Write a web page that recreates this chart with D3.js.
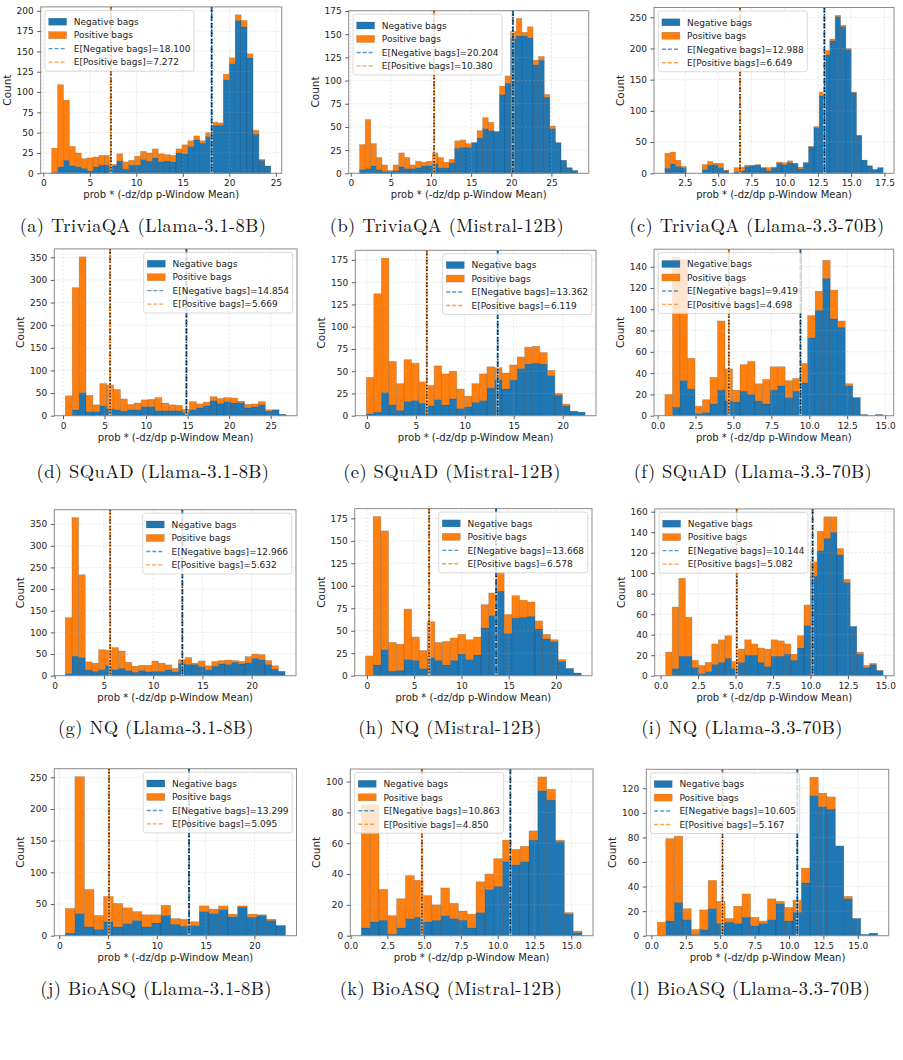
<!DOCTYPE html>
<html>
<head>
<meta charset="utf-8">
<script src="https://cdn.jsdelivr.net/npm/d3@7"></script>
<style>
body { margin: 0; background: #fff; }
svg { display: block; }
</style>
</head>
<body>
<svg id="fig" width="903" height="1060"></svg>
<script>
// ---- data: stacked histogram counts (negative = blue, positive = orange on top)
var captions = ['(a) TriviaQA (Llama-3.1-8B)', '(b) TriviaQA (Mistral-12B)', '(c) TriviaQA (Llama-3.3-70B)',
	'(d) SQuAD (Llama-3.1-8B)', '(e) SQuAD (Mistral-12B)', '(f) SQuAD (Llama-3.3-70B)',
	'(g) NQ (Llama-3.1-8B)', '(h) NQ (Mistral-12B)', '(i) NQ (Llama-3.3-70B)',
	'(j) BioASQ (Llama-3.1-8B)', '(k) BioASQ (Mistral-12B)', '(l) BioASQ (Llama-3.3-70B)'];

var binStart = [0.9, 1.1, 1.0, 0.28, -0.07, 0.48, 1.08, -0.15, 0.33, 0.62, 0.73, 0.43];
var binWidth = [0.6365, 0.697, 0.4, 0.83, 0.771, 0.4955, 0.676, 0.815, 0.44, 0.981, 0.6, 0.616];

var negMean = [18.100, 20.204, 12.988, 14.854, 13.362, 9.419, 12.966, 13.668, 10.144, 13.299, 10.863, 10.605];
var posMean = [7.272, 10.380, 6.649, 5.669, 6.119, 4.698, 5.632, 6.578, 5.082, 5.095, 4.850, 5.167];

var negA = [1,8,16,9,8,6,3,8,10,10, 9,15,5,10,10,17,15,19,14,15, 14,25,24,33,41,37,45,59,59,115, 135,188,180,142,48,16,9];
var posA = [30,101,74,24,17,12,16,12,12,12, 2,9,9,6,11,10,10,11,10,8, 8,5,11,7,5,3,5,4,3,7, 7,7,8,5,5,1,0];
var negB = [4,5,8,4,2,2,3,7,5,5, 6,8,8,10,6,6,11,27,28,28, 33,38,48,46,45,85,97,145,148,148, 146,117,122,82,48,33,14,6,3];
var posB = [27,53,24,13,7,1,6,15,12,4, 7,4,5,12,11,6,4,8,8,4, 0,8,12,9,0,9,8,8,19,4, 12,5,4,3,3,0,0,0,0];
var negC = [8,15,11,9,0,0,0,6,13,14, 9,4,0,2,4,11,12,13,9,4, 9,16,14,17,16,7,17,42,73,124, 190,212,251,235,198,129,60,21,12,6, 9];
var posC = [24,19,10,2,0,0,0,8,6,2, 7,1,0,7,6,2,1,1,0,5, 1,2,3,3,0,3,0,1,2,6, 7,3,2,2,2,1,1,0,0,0, 0];
var negD = [0,13,51,9,9,22,15,13,10,13, 13,20,20,11,11,11,11,7,13,17, 22,33,27,31,28,29,17,20,24,10, 13,3];
var posD = [44,270,300,36,15,49,53,45,27,12, 15,15,16,29,17,13,12,7,18,9, 8,9,11,9,11,3,8,6,7,3, 0,0];
var negE = [2,4,26,12,6,16,17,14,11,18, 12,19,8,10,15,17,31,40,30,40, 53,58,59,58,45,23,11,5,4];
var posE = [41,133,151,49,30,47,42,24,23,38, 35,31,22,12,21,30,24,14,18,17, 13,19,19,13,6,2,2,0,0];
var negF = [0,8,33,25,2,3,11,24,14,13, 23,20,14,11,24,28,17,23,31,73, 99,129,91,83,28,17,1,0,1];
var posF = [20,141,114,29,7,12,25,65,30,11, 25,31,16,23,22,18,16,12,18,21, 18,17,27,6,2,0,0,0,0];
var negG = [5,45,42,13,10,14,23,14,17,12, 8,12,9,10,10,14,9,28,26,26, 21,13,22,27,26,31,27,30,40,37, 26,15,10];
var posG = [129,320,191,19,19,46,36,51,40,19, 14,12,15,24,19,11,8,9,16,3, 13,10,11,8,10,4,6,14,10,12, 9,8,0];
var negH = [0,12,29,5,6,18,17,8,20,17, 12,17,24,18,23,53,67,94,47,64, 65,66,52,41,38,16,8,3];
var posH = [22,165,132,32,29,56,26,20,40,20, 26,25,22,22,20,26,25,21,21,25, 19,16,9,5,2,2,0,0];
var negI = [0,7,19,19,8,2,4,11,13,17, 7,13,20,20,13,9,19,19,21,15, 27,49,97,122,134,140,118,91,48,21, 8,11,5];
var posI = [23,60,76,38,7,8,9,20,22,22, 7,13,15,11,14,17,16,15,10,6, 12,20,14,19,21,15,6,3,0,2, 2,1,0];
var negJ = [4,35,14,10,22,14,19,24,14,20, 32,18,15,16,38,35,41,30,45,29, 32,24,16];
var posJ = [39,216,59,22,40,37,25,14,19,13, 16,9,11,6,9,7,6,4,2,5, 1,2,0];
var negK = [5,9,10,1,5,11,12,9,10,13, 11,10,5,15,30,32,48,46,48,62, 94,88,61,14,2];
var posK = [80,76,20,12,19,28,24,17,10,18, 10,6,9,20,10,18,14,10,10,6, 9,7,1,1,1];
var negL = [0,12,27,13,1,5,22,10,11,10, 15,8,10,13,26,12,19,43,114,105, 103,73,30,14,1,2];
var posL = [11,67,54,9,4,16,23,18,3,14, 19,7,2,17,2,11,10,12,15,11, 10,0,2,0,0,0];

var xTicks = [
	[0,5,10,15,20,25], [0,5,10,15,20,25], [2.5,5,7.5,10,12.5,15,17.5],
	[0,5,10,15,20,25], [0,5,10,15,20], [0,2.5,5,7.5,10,12.5,15],
	[0,5,10,15,20], [0,5,10,15,20], [0,2.5,5,7.5,10,12.5,15],
	[0,5,10,15,20], [0,2.5,5,7.5,10,12.5,15], [0,2.5,5,7.5,10,12.5,15]];
var yTicks = [
	d3.range(0, 201, 25), d3.range(0, 176, 25), d3.range(0, 251, 50),
	d3.range(0, 351, 50), d3.range(0, 176, 25), d3.range(0, 141, 20),
	d3.range(0, 351, 50), d3.range(0, 176, 25), d3.range(0, 161, 20),
	d3.range(0, 251, 50), d3.range(0, 101, 20), d3.range(0, 121, 20)];

// ---- layout (page pixels)
var axLeft  = [40.7, 348.7, 654, 54.3, 355.3, 654, 54.3, 354.7, 654.7, 54.3, 350.3, 646.3];
var axRight = [281.7, 588.7, 894, 297, 596, 893.7, 296, 592, 894, 296.5, 593, 888.7];
var axTop   = [6.9, 10.7, 7.5, 248.9, 250.3, 249.2, 509.7, 508.6, 508.9, 768.7, 769, 769.3];
var rowBottom = [173.3, 415.7, 675.7, 935.7];
var capBase = [232, 478, 734, 995];
var capX = [143, 447, 757, 153, 452, 753, 156, 450, 742, 156, 451, 750];
var legendLeft = [true, true, true, false, false, true, false, false, true, false, true, true];

var blue = '#1f77b4', orange = '#ff7f0e';
var sans = 'DejaVu Sans, sans-serif';

var negs = [negA, negB, negC, negD, negE, negF, negG, negH, negI, negJ, negK, negL];
var poss = [posA, posB, posC, posD, posE, posF, posG, posH, posI, posJ, posK, posL];

var panels = captions.map(function(c, i) {
	return {
		caption: c, neg: negs[i], pos: poss[i], x0: binStart[i], w: binWidth[i],
		negMean: negMean[i], posMean: posMean[i], xt: xTicks[i], yt: yTicks[i],
		left: axLeft[i], right: axRight[i], top: axTop[i], bottom: rowBottom[Math.floor(i / 3)],
		capY: capBase[Math.floor(i / 3)], capX: capX[i], legLeft: legendLeft[i],
		fmt: (xTicks[i].indexOf(2.5) >= 0) ? d3.format('.1f') : d3.format('d')
	};
});

var svg = d3.select('#fig');

panels.forEach(function(p) { drawPanel(svg.append('g'), p); });

function drawPanel(g, p)
{
	var n = p.neg.length;
	var xEnd = p.x0 + n * p.w;
	var m = 0.05 * (xEnd - p.x0);
	var x = d3.scaleLinear().domain([p.x0 - m, xEnd + m]).range([p.left, p.right]);
	var tot = p.neg.map(function(v, i) { return v + p.pos[i]; });
	var y = d3.scaleLinear().domain([0, d3.max(tot) * 1.05]).range([p.bottom, p.top]);

	var bins = p.neg.map(function(v, i) {
		return { x: p.x0 + i * p.w, neg: v, pos: p.pos[i] };
	});
	var bw = x(p.x0 + p.w) - x(p.x0);

	// blue bars
	g.append('g').selectAll('rect').data(bins.filter(function(d) { return d.neg > 0; }))
		.enter().append('rect')
		.attr('x', function(d) { return x(d.x); }).attr('width', bw)
		.attr('y', function(d) { return y(d.neg); })
		.attr('height', function(d) { return y(0) - y(d.neg); })
		.attr('fill', blue).attr('stroke', '#333').attr('stroke-opacity', 0.45).attr('stroke-width', 0.6);

	// orange bars stacked on top
	g.append('g').selectAll('rect').data(bins.filter(function(d) { return d.pos > 0; }))
		.enter().append('rect')
		.attr('x', function(d) { return x(d.x); }).attr('width', bw)
		.attr('y', function(d) { return y(d.neg + d.pos); })
		.attr('height', function(d) { return y(d.neg) - y(d.neg + d.pos); })
		.attr('fill', orange).attr('stroke', '#555').attr('stroke-opacity', 0.4).attr('stroke-width', 0.6);

	// grid
	var grid = g.append('g').attr('stroke', '#b0b0b0').attr('stroke-opacity', 0.45)
		.attr('stroke-width', 0.6).attr('stroke-dasharray', '2.5,1.5');
	p.xt.forEach(function(t) {
		grid.append('line').attr('x1', x(t)).attr('x2', x(t)).attr('y1', p.top).attr('y2', p.bottom);
	});
	p.yt.forEach(function(t) {
		grid.append('line').attr('x1', p.left).attr('x2', p.right).attr('y1', y(t)).attr('y2', y(t));
	});

	// mean lines
	[{ v: p.negMean, c: blue }, { v: p.posMean, c: orange }].forEach(function(ml) {
		g.append('line').attr('x1', x(ml.v)).attr('x2', x(ml.v)).attr('y1', p.top).attr('y2', p.bottom)
			.attr('stroke', '#fff').attr('stroke-opacity', 0.6).attr('stroke-width', 2.6);
		g.append('line').attr('x1', x(ml.v)).attr('x2', x(ml.v)).attr('y1', p.top).attr('y2', p.bottom)
			.attr('stroke', ml.c).attr('stroke-width', 2).attr('stroke-dasharray', '5.5,2.4');
		g.append('line').attr('x1', x(ml.v)).attr('x2', x(ml.v)).attr('y1', p.top).attr('y2', p.bottom)
			.attr('stroke', '#111').attr('stroke-width', 1.3).attr('stroke-dasharray', '1.4,1.8');
	});

	// frame
	g.append('rect').attr('x', p.left).attr('y', p.top)
		.attr('width', p.right - p.left).attr('height', p.bottom - p.top)
		.attr('fill', 'none').attr('stroke', '#8c8c8c').attr('stroke-width', 1);

	// axes
	var xa = g.append('g').attr('transform', 'translate(0,' + p.bottom + ')')
		.call(d3.axisBottom(x).tickValues(p.xt).tickSize(3.5).tickPadding(3).tickFormat(p.fmt));
	var ya = g.append('g').attr('transform', 'translate(' + p.left + ',0)')
		.call(d3.axisLeft(y).tickValues(p.yt).tickSize(3.5).tickPadding(3.5).tickFormat(d3.format('d')));
	[xa, ya].forEach(function(a) {
		a.attr('font-family', sans).attr('font-size', 9);
		a.select('.domain').remove();
		a.selectAll('line').attr('stroke', '#333').attr('stroke-width', 0.8);
		a.selectAll('text').attr('fill', '#222');
	});

	g.append('text').attr('x', (p.left + p.right) / 2).attr('y', p.bottom + 25)
		.attr('text-anchor', 'middle').attr('font-family', sans).attr('font-size', 10).attr('fill', '#222')
		.text('prob * (-dz/dp p-Window Mean)');
	g.append('text').attr('transform', 'translate(' + (p.left - 30) + ',' + ((p.top + p.bottom) / 2) + ') rotate(-90)')
		.attr('text-anchor', 'middle').attr('font-family', sans).attr('font-size', 10.5).attr('fill', '#222')
		.text('Count');

	drawLegend(g, p);

	// caption
	g.append('text').attr('x', p.capX).attr('y', p.capY).attr('text-anchor', 'middle')
		.attr('font-family', "'Latin Modern Roman', 'CMU Serif', 'Liberation Serif', serif")
		.attr('font-size', 18.5).attr('letter-spacing', 0.4).attr('fill', '#111')
		.text(p.caption);
}

function drawLegend(g, p)
{
	var items = [
		{ kind: 'patch', color: blue, label: 'Negative bags' },
		{ kind: 'patch', color: orange, label: 'Positive bags' },
		{ kind: 'line', color: blue, label: 'E[Negative bags]=' + p.negMean.toFixed(3) },
		{ kind: 'line', color: orange, label: 'E[Positive bags]=' + p.posMean.toFixed(3) }
	];
	var fs = 9;
	var lg = g.append('g');
	var box = lg.append('rect');
	var texts = lg.selectAll('text').data(items).enter().append('text')
		.attr('font-family', sans).attr('font-size', fs).attr('fill', '#222')
		.text(function(d) { return d.label; });
	var maxW = 0;
	texts.each(function() { maxW = Math.max(maxW, this.getComputedTextLength()); });

	var bwid = maxW + 32.4, bh = 60.7;
	var bx = p.legLeft ? p.left + 4.3 : p.right - 4.3 - bwid;
	var by = p.top + 3.5;
	box.attr('x', bx).attr('y', by).attr('width', bwid).attr('height', bh).attr('rx', 2.5)
		.attr('fill', '#fff').attr('fill-opacity', 0.8).attr('stroke', '#d0d0d0').attr('stroke-width', 0.8);

	items.forEach(function(d, i) {
		var cy = by + 11.3 + i * 13.47;
		if (d.kind === 'patch') {
			lg.append('rect').attr('x', bx + 3.6).attr('y', cy - 3.5).attr('width', 18).attr('height', 7)
				.attr('fill', d.color).attr('stroke', '#333').attr('stroke-opacity', 0.35).attr('stroke-width', 0.5);
		} else {
			lg.append('line').attr('x1', bx + 3.6).attr('x2', bx + 21.6).attr('y1', cy).attr('y2', cy)
				.attr('stroke', d.color).attr('stroke-opacity', 0.75).attr('stroke-width', 1.4)
				.attr('stroke-dasharray', '4,2');
		}
	});
	texts.attr('x', bx + 28.8).attr('y', function(d, i) { return by + 11.3 + i * 13.47 + 3.3; });
}
</script>
</body>
</html>
